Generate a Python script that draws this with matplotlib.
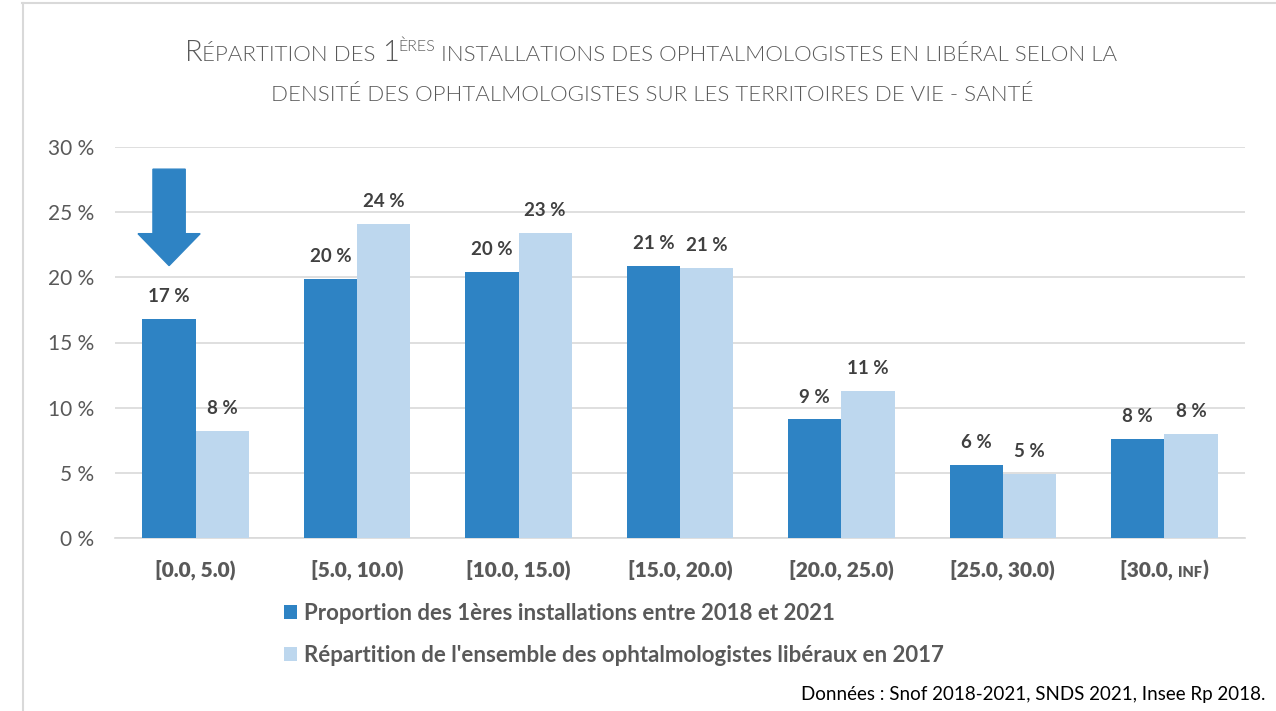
import matplotlib
matplotlib.use("Agg")
import matplotlib.pyplot as plt
import numpy as np
from matplotlib.patches import FancyArrow
from matplotlib.lines import Line2D
from matplotlib.font_manager import FontProperties

# Données
categories = ["[0.0, 5.0)", "[5.0, 10.0)", "[10.0, 15.0)", "[15.0, 20.0)",
              "[20.0, 25.0)", "[25.0, 30.0)", "[30.0, INF)"]
installations = [16.8, 19.9, 20.4, 20.9, 9.1, 5.6, 7.6]
ensemble = [8.2, 24.1, 23.4, 20.7, 11.3, 4.9, 8.0]
labels_series = ["Proportion des 1ères installations entre 2018 et 2021",
                 "Répartition de l'ensemble des ophtalmologistes libéraux en 2017"]
yticks = [0, 5, 10, 15, 20, 25, 30]

c_dark = "#2E83C4"
c_light = "#BDD7EE"
c_grid = "#D9D9D9"
c_text = "#595959"
c_lab = "#404040"
font = "Lato"

plt.rcParams["font.family"] = [font, "DejaVu Sans"]

fig = plt.figure(figsize=(12.76, 7.11), dpi=100)
W, H = 1276, 711
ax = fig.add_axes([115 / W, 1 - 538 / H, 1130 / W, 391 / H])

x = np.arange(len(categories))
bw = 0.33
b1 = ax.bar(x - bw / 2, installations, bw, color=c_dark, label=labels_series[0], zorder=3)
b2 = ax.bar(x + bw / 2, ensemble, bw, color=c_light, label=labels_series[1], zorder=3)

for bars, vals in [(b1, installations), (b2, ensemble)]:
    for rect, v in zip(bars, vals):
        ax.annotate(f"{round(v)} %", (rect.get_x() + rect.get_width() / 2, v),
                    xytext=(0, 10), textcoords="offset points", ha="center", va="bottom",
                    fontsize=13.5, fontweight="bold", color=c_lab)

ax.set_xlim(-0.5, len(categories) - 0.5)
ax.set_ylim(0, 30)
ax.tick_params(axis="both", length=0)
ax.tick_params(axis="y", pad=15)
ax.set_yticks(yticks)
ax.set_yticklabels([f"{t} %" for t in yticks], fontsize=15, color=c_text)
ax.yaxis.grid(True, color=c_grid, linewidth=1.2, zorder=0)
ax.set_axisbelow(True)
for s in ["top", "right", "left"]:
    ax.spines[s].set_visible(False)
ax.spines["bottom"].set_color(c_grid)
ax.spines["bottom"].set_linewidth(1.2)
ax.set_xticks(x)
ax.set_xticklabels([])

# flèche sur la première classe
ax.add_patch(FancyArrow(x[0] - bw / 2, 28.3, 0, -7.4, width=0.2, head_width=0.385,
                        head_length=2.45, length_includes_head=True,
                        color=c_dark, zorder=4))

fig.canvas.draw()
r = fig.canvas.get_renderer()


def chain(segs, cx, y, color, weight="normal"):
    # segments de texte posés à la suite, centrés sur cx (pixels)
    texts = []
    for s, size, dy in segs:
        fp = FontProperties(family=font, weight=weight, size=size)
        t = fig.text(0, 0, s, fontproperties=fp, ha="left", va="baseline", color=color)
        texts.append((t, dy))
    widths = [t.get_window_extent(r).width for t, _ in texts]
    xx = cx - sum(widths) / 2
    for (t, dy), w in zip(texts, widths):
        t.set_position((xx / W, 1 - (y - dy) / H))
        xx += w


# titre en petites capitales
chain([("R", 21, 0), ("ÉPARTITION DES ", 16, 0), ("1", 21, 0), ("ÈRES", 11.5, 10),
       (" INSTALLATIONS DES OPHTALMOLOGISTES EN LIBÉRAL SELON LA", 16, 0)],
      651, 61, c_text, weight=300)
chain([("DENSITÉ DES OPHTALMOLOGISTES SUR LES TERRITOIRES DE VIE - SANTÉ", 16, 0)],
      652, 101, c_text, weight=300)

# étiquettes de l'axe x ("inf" en petites capitales)
for xi, cat in zip(x, categories):
    px = ax.transData.transform((xi, 0))[0]
    if cat.endswith("INF)"):
        segs = [(cat[:-4], 15, 0), ("INF", 10.5, 0), (")", 15, 0)]
    else:
        segs = [(cat, 15, 0)]
    chain(segs, px, 577, c_text, weight=800)

fig.legend(handles=[b1, b2], labels=labels_series, loc="upper left",
           bbox_to_anchor=(284 / W, 1 - 603 / H), frameon=False, ncol=1,
           prop={"size": 16, "weight": "bold"}, labelcolor=c_text,
           handlelength=0.6, handleheight=0.6, handletextpad=0.3, labelspacing=0.95,
           borderaxespad=0, borderpad=0)

fig.text(1265 / W, 1 - 700 / H, "Données : Snof 2018-2021, SNDS 2021, Insee Rp 2018.",
         ha="right", va="baseline", fontsize=13.5, color="black")

# cadre gris du graphique
fig.add_artist(Line2D([22 / W, 1], [1 - 3 / H, 1 - 3 / H], color=c_grid, linewidth=1.5))
fig.add_artist(Line2D([23 / W, 23 / W], [0, 1 - 3 / H], color=c_grid, linewidth=1.5))

fig.savefig("out.png", dpi=100)
